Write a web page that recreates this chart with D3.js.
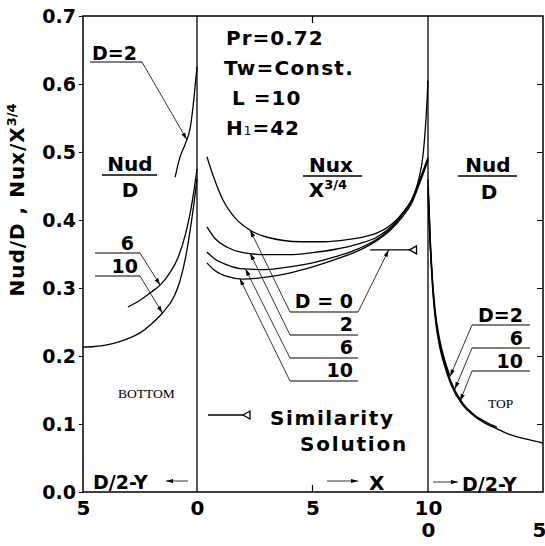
<!DOCTYPE html>
<html>
<head>
<meta charset="utf-8">
<script src="https://cdn.jsdelivr.net/npm/d3@7"></script>
<style>
  body { margin: 0; background: #fff; }
  text { font-family: "DejaVu Sans", sans-serif; font-weight: bold; fill: #000; }
  text.serif { font-family: "Liberation Serif", serif; font-weight: normal; }
</style>
</head>
<body>
<svg id="chart"></svg>
<script>
let w = 545;
let h = 546;

// y axis ticks (Nud/D , Nux/X^3/4)
let yTicks = [0, 0.1, 0.2, 0.3, 0.4, 0.5, 0.6, 0.7];

// BOTTOM panel : [D/2-Y, Nud/D]
let bottomD2 = [[0.96, 0.463], [0.75, 0.492], [0.5, 0.513], [0.3, 0.535], [0.17, 0.568], [0.08, 0.598], [0, 0.625]];
let bottomD6 = [[3.03, 0.272], [2.5, 0.282], [2, 0.294], [1.6, 0.305], [1.2, 0.322], [0.83, 0.345], [0.5, 0.38], [0.3, 0.41], [0.15, 0.44], [0, 0.475]];
let bottomD10 = [[5, 0.213], [4.5, 0.214], [4, 0.216], [3.5, 0.22], [3, 0.226], [2.5, 0.234], [2, 0.247], [1.5, 0.264], [1, 0.288], [0.75, 0.31], [0.5, 0.345], [0.3, 0.385], [0.15, 0.42], [0, 0.46]];

// side wall : [X, Nux/X^3/4]
let sideD0 = [[0.43, 0.493], [0.7, 0.465], [1.13, 0.429], [1.6, 0.405], [2.3, 0.385], [3, 0.375], [4.5, 0.368], [5.5, 0.368], [6.5, 0.371], [7.3, 0.376], [7.8, 0.381], [8.4, 0.393], [8.9, 0.41], [9.3, 0.43], [9.6, 0.46], [9.8, 0.5], [9.95, 0.57], [10, 0.605]];
let sideD2 = [[0.43, 0.39], [0.8, 0.372], [1.3, 0.36], [2, 0.352], [3, 0.349], [4, 0.349], [5, 0.352], [6, 0.357], [7, 0.365], [7.8, 0.375], [8.4, 0.39], [8.9, 0.41], [9.3, 0.43], [9.65, 0.46], [10, 0.492]];
let sideD6 = [[0.43, 0.353], [0.8, 0.342], [1.3, 0.334], [2, 0.328], [3, 0.327], [4, 0.331], [5, 0.337], [6, 0.346], [7, 0.358], [7.8, 0.372], [8.4, 0.388], [8.9, 0.408], [9.3, 0.428], [9.65, 0.458], [10, 0.49]];
let sideD10 = [[0.43, 0.337], [0.8, 0.325], [1.3, 0.317], [2, 0.313], [3, 0.316], [4, 0.322], [5, 0.331], [6, 0.342], [7, 0.355], [7.8, 0.37], [8.4, 0.386], [8.9, 0.405], [9.3, 0.425], [9.65, 0.455], [10, 0.488]];
let similarity = [[7.5, 0.356], [9.2, 0.356]];

// TOP panel : [D/2-Y, Nud/D]
let topD2 = [[0, 0.46], [0.1, 0.37], [0.2, 0.31], [0.3, 0.27], [0.5, 0.225], [0.7, 0.197], [0.96, 0.17]];
let topD6 = [[0, 0.45], [0.1, 0.365], [0.2, 0.305], [0.3, 0.265], [0.5, 0.22], [0.7, 0.192], [1, 0.162], [1.5, 0.131], [2, 0.114], [2.5, 0.103], [3, 0.095]];
let topD10 = [[0, 0.44], [0.1, 0.36], [0.2, 0.3], [0.3, 0.26], [0.5, 0.215], [0.7, 0.188], [1, 0.158], [1.5, 0.128], [2, 0.112], [2.5, 0.101], [3, 0.093], [3.5, 0.085], [4, 0.08], [4.5, 0.076], [5, 0.072]];

let svg = d3.select('#chart').attr('width', w).attr('height', h);

let yScale = d3.scaleLinear().domain([0, 0.7]).range([492, 16]);
let xLeft = d3.scaleLinear().domain([5, 0]).range([83, 197]);
let xMid = d3.scaleLinear().domain([0, 10]).range([197, 428]);
let xRight = d3.scaleLinear().domain([0, 5]).range([428, 543]);

svg.append('defs').append('marker')
  .attr('id', 'arrow')
  .attr('viewBox', '0 -4 10 8')
  .attr('refX', 10).attr('refY', 0)
  .attr('markerWidth', 7).attr('markerHeight', 6)
  .attr('markerUnits', 'userSpaceOnUse')
  .attr('orient', 'auto')
  .append('path').attr('d', 'M0,-3L10,0L0,3Z').attr('fill', '#000');

// value of a curve at x, linear between read points
function valueAt(series, x) {
  let s = series.slice().sort((a, b) => a[0] - b[0]);
  for (let i = 1; i < s.length; i++) {
    if (x <= s[i][0]) {
      let t = (x - s[i - 1][0]) / (s[i][0] - s[i - 1][0]);
      return s[i - 1][1] + t * (s[i][1] - s[i - 1][1]);
    }
  }
  return s[s.length - 1][1];
}

function drawCurve(series, xs, width) {
  let pts = series.slice().sort((a, b) => xs(a[0]) - xs(b[0]));
  let line = d3.line()
    .x((d) => xs(d[0]))
    .y((d) => yScale(d[1]))
    .curve(d3.curveMonotoneX);
  svg.append('path')
    .datum(pts)
    .attr('d', line)
    .attr('fill', 'none')
    .attr('stroke', '#000')
    .attr('stroke-width', width || 1.3);
}

function leader(points) {
  svg.append('path')
    .attr('d', d3.line()(points))
    .attr('fill', 'none')
    .attr('stroke', '#000')
    .attr('stroke-width', 0.8)
    .attr('marker-end', 'url(#arrow)');
}

function tip(series, xs, x) {
  return [xs(x), yScale(valueAt(series, x))];
}

function label(x, y, str, size, anchor) {
  return svg.append('text')
    .attr('x', x).attr('y', y)
    .attr('font-size', size || 19)
    .attr('text-anchor', anchor || 'start')
    .text(str);
}

function rule(x1, x2, y, width) {
  svg.append('line')
    .attr('x1', x1).attr('x2', x2).attr('y1', y).attr('y2', y)
    .attr('stroke', '#000').attr('stroke-width', width || 1);
}

// frame and panel dividers
svg.append('rect')
  .attr('x', 83).attr('y', 16)
  .attr('width', 543 - 83).attr('height', 492 - 16)
  .attr('fill', 'none').attr('stroke', '#000').attr('stroke-width', 1.5);
[xMid(0), xMid(10)].forEach((x) => {
  svg.append('line').attr('x1', x).attr('x2', x).attr('y1', 16).attr('y2', 492)
    .attr('stroke', '#000').attr('stroke-width', 1.3);
});

// y axis
let yAxis = d3.axisLeft(yScale).tickValues(yTicks).tickFormat(d3.format('.1f')).tickSize(4).tickPadding(3);
let yAxisGroup = svg.append('g').attr('transform', 'translate(83,0)').call(yAxis);
yAxisGroup.select('.domain').remove();
yAxisGroup.selectAll('text').attr('font-size', 19).style('font-family', '"DejaVu Sans", sans-serif').style('font-weight', 'bold');

// inward ticks on right edge
let rAxis = d3.axisLeft(yScale).tickValues(yTicks.slice(1, 7)).tickSize(6).tickFormat('');
let rAxisGroup = svg.append('g').attr('transform', 'translate(543,0)').call(rAxis);
rAxisGroup.select('.domain').remove();

// x labels, one axis per panel
function xAxisPanel(xs, values, dy) {
  let ax = d3.axisBottom(xs).tickValues(values).tickSize(0).tickPadding(0).tickFormat(d3.format('d'));
  let g = svg.append('g').attr('transform', `translate(0,${492 + dy})`).call(ax);
  g.select('.domain').remove();
  g.selectAll('text').attr('font-size', 20).attr('dy', '0.95em')
    .style('font-family', '"DejaVu Sans", sans-serif').style('font-weight', 'bold');
  return g;
}
xAxisPanel(xLeft, [5], 4);
xAxisPanel(xMid, [0, 5, 10], 4);
let rightLabels = xAxisPanel(xRight, [0, 5], 26);
rightLabels.selectAll('text').filter((d) => d === 5).attr('dx', -4);

// middle ticks at X = 5
svg.append('line').attr('x1', xMid(5)).attr('x2', xMid(5)).attr('y1', 492).attr('y2', 485).attr('stroke', '#000').attr('stroke-width', 1.2);
svg.append('line').attr('x1', xMid(5)).attr('x2', xMid(5)).attr('y1', 16).attr('y2', 23).attr('stroke', '#000').attr('stroke-width', 1.2);

// y axis title
let yt = svg.append('text')
  .attr('transform', 'translate(24,200) rotate(-90)')
  .attr('text-anchor', 'middle')
  .attr('font-size', 20)
  .attr('letter-spacing', 1);
yt.append('tspan').text('Nud/D , Nux/X');
yt.append('tspan').attr('font-size', 13).attr('dy', -8).attr('letter-spacing', 0).text('3/4');

// curves
drawCurve(bottomD2, xLeft);
drawCurve(bottomD6, xLeft);
drawCurve(bottomD10, xLeft);
drawCurve(sideD0, xMid);
drawCurve(sideD2, xMid);
drawCurve(sideD6, xMid);
drawCurve(sideD10, xMid);
drawCurve(topD2, xRight, 1.4);
drawCurve(topD6, xRight, 1.4);
drawCurve(topD10, xRight, 1.4);

// similarity solution
svg.append('line')
  .attr('x1', xMid(similarity[0][0])).attr('x2', xMid(similarity[1][0]))
  .attr('y1', yScale(similarity[0][1])).attr('y2', yScale(similarity[1][1]))
  .attr('stroke', '#000').attr('stroke-width', 1.3);
function simTriangle(x, y) {
  svg.append('path')
    .attr('d', `M${x},${y}L${x + 7},${y - 4}L${x + 7},${y + 4}Z`)
    .attr('fill', '#fff').attr('stroke', '#000').attr('stroke-width', 1.3);
}
simTriangle(xMid(similarity[1][0]), yScale(similarity[1][1]));

// ---- BOTTOM panel labels
label(92, 60, 'D=2');
rule(90, 142, 62);
leader([[142, 62], tip(bottomD2, xLeft, 0.45)]);
label(130, 171, 'Nud', 20, 'middle');
rule(102, 157, 175, 1.5);
label(130, 197, 'D', 20, 'middle');
label(134, 250, '6', 19, 'end');
rule(95, 140, 253);
leader([[140, 253], tip(bottomD6, xLeft, 1.62)]);
label(138, 273, '10', 19, 'end');
rule(95, 140, 276);
leader([[140, 276], tip(bottomD10, xLeft, 1.52)]);
svg.append('text').attr('class', 'serif').attr('x', 118).attr('y', 398).attr('font-size', 13.5).text('BOTTOM');
label(93, 489, 'D/2-Y', 19);
leader([[188, 481], [166, 481]]);

// ---- side wall labels
label(226, 45, 'Pr=0.72', 20).attr('letter-spacing', 1);
label(224, 75, 'Tw=Const.', 20).attr('letter-spacing', 1.3);
label(232, 105, 'L =10', 20).attr('letter-spacing', 1);
let hl = label(226, 135, 'H', 20).attr('letter-spacing', 1);
hl.append('tspan').attr('font-size', 12).attr('font-weight', 'normal').text('1');
hl.append('tspan').text('=42');
label(331, 172, 'Nux', 20, 'middle');
rule(303, 362, 176, 1.5);
let xl = label(328, 197, 'X', 20, 'middle');
xl.append('tspan').attr('font-size', 13).attr('dy', -8).text('3/4');

label(353, 308, 'D = 0', 19, 'end');
rule(290, 358, 312);
leader([[290, 312], tip(sideD0, xMid, 2.3)]);
leader([[358, 312], [xMid(8.3), yScale(similarity[0][1])]]);
label(353, 331, '2', 19, 'end');
rule(290, 358, 335);
leader([[290, 335], tip(sideD2, xMid, 2.3)]);
label(353, 354, '6', 19, 'end');
rule(290, 358, 358);
leader([[290, 358], tip(sideD6, xMid, 2.1)]);
label(353, 377, '10', 19, 'end');
rule(290, 358, 381);
leader([[290, 381], tip(sideD10, xMid, 1.85)]);

rule(208, 243, 415, 1.3);
simTriangle(243, 415);
label(270, 425, 'Similarity', 20).attr('letter-spacing', 1.6);
label(300, 451, 'Solution', 20).attr('letter-spacing', 1.8);
leader([[327, 481], [358, 481]]);
label(369, 490, 'X', 20);

// ---- TOP panel labels
label(488, 172, 'Nud', 20, 'middle');
rule(458, 517, 176, 1.5);
label(489, 199, 'D', 20, 'middle');
label(523, 322, 'D=2', 19, 'end');
rule(472, 530, 325);
leader([[472, 325], tip(topD2, xRight, 0.96)]);
label(523, 345, '6', 19, 'end');
rule(472, 530, 348);
leader([[472, 348], tip(topD6, xRight, 1.17)]);
label(523, 368, '10', 19, 'end');
rule(472, 530, 371);
leader([[472, 371], tip(topD10, xRight, 1.4)]);
svg.append('text').attr('class', 'serif').attr('x', 488).attr('y', 408).attr('font-size', 13.5).text('TOP');
leader([[433, 482], [458, 482]]);
label(462, 491, 'D/2-Y', 19);
</script>
</body>
</html>
